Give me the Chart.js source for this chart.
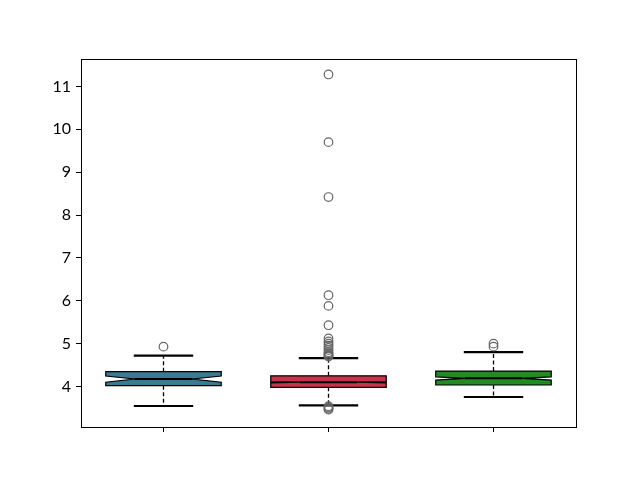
<!DOCTYPE html>
<html>
<head>
<meta charset="utf-8">
<script src="https://cdn.jsdelivr.net/npm/chart.js@4/dist/chart.umd.min.js"></script>
<style>
  html, body { margin: 0; padding: 0; background: #fff; }
  #wrap { width: 640px; height: 480px; }
</style>
</head>
<body>
<div id="wrap"><canvas id="chart" width="640" height="480"></canvas></div>
<script>
// box positions on the x axis (no labels shown)
const positions = [1, 2, 3];
const boxColors = ['#3b7a90', '#c8324b', '#228b22'];

// five-number summaries
const whiskerLow = [3.545, 3.56, 3.755];
const q1 = [4.02, 3.98, 4.035];
const medians = [4.175, 4.10, 4.19];
const q3 = [4.345, 4.25, 4.36];
const whiskerHigh = [4.72, 4.66, 4.80];

// notch bounds (confidence interval around the median)
const notchLow = [4.10, 4.085, 4.15];
const notchHigh = [4.245, 4.115, 4.225];

// fliers
const outliers = [
    [4.93],
    [11.28, 9.70, 8.42, 6.13, 5.88, 5.43, 5.12, 5.05, 5.00, 4.95, 4.90, 4.85,
     4.80, 4.77, 4.74, 4.72, 4.70, 3.54, 3.51, 3.48, 3.46],
    [5.00, 4.93]
];

const yTicks = [4, 5, 6, 7, 8, 9, 10, 11];

const flierPoints = [];
outliers.forEach(function (list, i) {
    list.forEach(function (v) { flierPoints.push({ x: positions[i], y: v }); });
});

const boxWidth = 0.7;
const capWidth = 0.36;

// draws notched boxes, whiskers, caps and medians through the scales
const boxPlugin = {
    id: 'boxes',
    beforeDatasetsDraw(chart) {
        const ctx = chart.ctx;
        const xs = chart.scales.x;
        const ys = chart.scales.y;
        ctx.save();
        positions.forEach(function (p, i) {
            const L = xs.getPixelForValue(p - boxWidth / 2);
            const R = xs.getPixelForValue(p + boxWidth / 2);
            const w = R - L;
            const yq1 = ys.getPixelForValue(q1[i]);
            const yq3 = ys.getPixelForValue(q3[i]);
            const ymed = ys.getPixelForValue(medians[i]);
            const ynl = ys.getPixelForValue(notchLow[i]);
            const ynh = ys.getPixelForValue(notchHigh[i]);
            const cx = xs.getPixelForValue(p);

            // whiskers
            ctx.strokeStyle = '#000';
            ctx.lineWidth = 1.3;
            ctx.setLineDash([4, 2.5]);
            ctx.beginPath();
            ctx.moveTo(cx, yq1);
            ctx.lineTo(cx, ys.getPixelForValue(whiskerLow[i]));
            ctx.moveTo(cx, yq3);
            ctx.lineTo(cx, ys.getPixelForValue(whiskerHigh[i]));
            ctx.stroke();
            ctx.setLineDash([]);

            // notched box
            ctx.beginPath();
            ctx.moveTo(L, yq1);
            ctx.lineTo(L, ynl);
            ctx.lineTo(L + w / 4, ymed);
            ctx.lineTo(L, ynh);
            ctx.lineTo(L, yq3);
            ctx.lineTo(R, yq3);
            ctx.lineTo(R, ynh);
            ctx.lineTo(R - w / 4, ymed);
            ctx.lineTo(R, ynl);
            ctx.lineTo(R, yq1);
            ctx.closePath();
            ctx.fillStyle = boxColors[i];
            ctx.fill();
            ctx.lineWidth = 1.2;
            ctx.strokeStyle = '#000';
            ctx.stroke();

            // caps
            const cl = xs.getPixelForValue(p - capWidth / 2);
            const cr = xs.getPixelForValue(p + capWidth / 2);
            ctx.lineWidth = 2.2;
            ctx.beginPath();
            [whiskerLow[i], whiskerHigh[i]].forEach(function (v) {
                const y = ys.getPixelForValue(v);
                ctx.moveTo(cl, y);
                ctx.lineTo(cr, y);
            });
            ctx.stroke();

            // median
            ctx.lineWidth = 2;
            ctx.beginPath();
            ctx.moveTo(L + w / 4, ymed);
            ctx.lineTo(R - w / 4, ymed);
            ctx.stroke();
        });
        ctx.restore();
    },
    afterDraw(chart) {
        const a = chart.chartArea;
        const ctx = chart.ctx;
        ctx.save();
        ctx.strokeStyle = '#000';
        ctx.lineWidth = 1;
        ctx.strokeRect(Math.round(a.left) + 0.5, Math.round(a.top) + 0.5,
            Math.round(a.right - a.left), Math.round(a.bottom - a.top));
        ctx.restore();
    }
};

new Chart(document.getElementById('chart'), {
    type: 'scatter',
    data: {
        datasets: [{
            data: flierPoints,
            pointStyle: 'circle',
            pointRadius: 4.3,
            pointBorderWidth: 1.2,
            pointBorderColor: '#666666',
            pointBackgroundColor: 'rgba(0,0,0,0)',
            pointHoverRadius: 4.3
        }]
    },
    options: {
        responsive: false,
        animation: false,
        events: [],
        layout: { padding: { top: 59, right: 64, bottom: 0, left: 0 } },
        plugins: { legend: { display: false }, tooltip: { enabled: false } },
        scales: {
            x: {
                type: 'linear',
                min: 0.5,
                max: 3.5,
                afterBuildTicks(scale) {
                    scale.ticks = positions.map(function (v) { return { value: v }; });
                },
                afterFit(scale) { scale.height = 53; },
                ticks: { callback: function () { return ''; } },
                grid: { drawOnChartArea: false, drawTicks: true, tickLength: 5, color: '#000' },
                border: { display: true, color: '#000' }
            },
            y: {
                min: 3.055,
                max: 11.64,
                afterBuildTicks(scale) {
                    scale.ticks = yTicks.map(function (v) { return { value: v }; });
                },
                afterFit(scale) { scale.width = 81; },
                ticks: {
                    color: '#000',
                    padding: 5,
                    font: { family: 'Lato', size: 16 }
                },
                grid: { drawOnChartArea: false, drawTicks: true, tickLength: 5, color: '#000' },
                border: { display: true, color: '#000' }
            }
        }
    },
    plugins: [boxPlugin]
});
</script>
</body>
</html>
